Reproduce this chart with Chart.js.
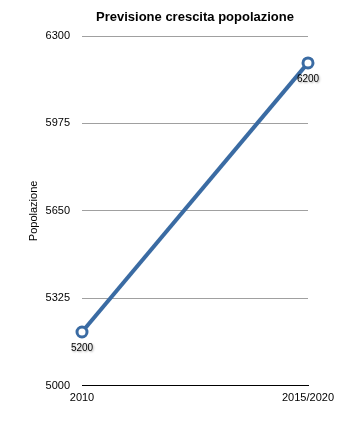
<!DOCTYPE html>
<html>
<head>
<meta charset="utf-8">
<script src="https://cdn.jsdelivr.net/npm/chart.js@4/dist/chart.umd.min.js"></script>
<style>
html,body{margin:0;padding:0;background:#fff;}
#wrap{width:362px;height:427px;}
</style>
</head>
<body>
<div id="wrap"><canvas id="c" width="362" height="427"></canvas></div>
<script>
const categories = ['2010', '2015/2020'];
const popolazione = [5200, 6200];
const yTicks = [5000, 5325, 5650, 5975, 6300];
const chartTitle = 'Previsione crescita popolazione';

const FONT = '"Liberation Sans", Arial, sans-serif';

const labelPlugin = {
  id: 'pointLabels',
  afterDatasetsDraw(chart) {
    const ctx = chart.ctx;
    const meta = chart.getDatasetMeta(0);
    ctx.save();
    ctx.font = '10px ' + FONT;
    ctx.textAlign = 'center';
    ctx.textBaseline = 'middle';
    ctx.shadowColor = 'rgba(0,0,0,0.35)';
    ctx.shadowBlur = 2;
    ctx.shadowOffsetX = 1;
    ctx.shadowOffsetY = 1;
    ctx.fillStyle = '#000';
    meta.data.forEach((pt, i) => {
      ctx.fillText(String(popolazione[i]), pt.x, pt.y + 16);
    });
    ctx.restore();
  },
  afterDraw(chart) {
    const ctx = chart.ctx;
    const a = chart.chartArea;
    ctx.save();
    ctx.font = 'bold 13px ' + FONT;
    ctx.textAlign = 'center';
    ctx.textBaseline = 'middle';
    ctx.fillStyle = '#000';
    ctx.fillText(chartTitle, (a.left + a.right) / 2, 17);
    ctx.restore();
  }
};

new Chart(document.getElementById('c'), {
  type: 'line',
  data: {
    labels: categories,
    datasets: [{
      data: popolazione,
      borderColor: '#3a6ba3',
      borderWidth: 4,
      pointRadius: 5,
      pointBorderWidth: 3,
      pointBackgroundColor: '#ffffff',
      pointBorderColor: '#3a6ba3',
      tension: 0
    }]
  },
  options: {
    responsive: false,
    animation: false,
    layout: { padding: { left: 0, right: 54, top: 36, bottom: 16 } },
    plugins: {
      legend: { display: false },
      tooltip: { enabled: false },
      title: { display: false }
    },
    scales: {
      x: {
        type: 'category',
        offset: false,
        grid: { display: false, drawTicks: false },
        border: { display: true, color: '#000', width: 1 },
        ticks: { color: '#000', padding: 6, maxRotation: 0,
          font: { family: FONT, size: 11 } }
      },
      y: {
        min: 5000, max: 6300,
        afterBuildTicks(axis) { axis.ticks = yTicks.map(v => ({ value: v })); },
        afterFit(axis) { axis.width = 82; },
        grid: { color: '#a0a0a0', drawTicks: false, lineWidth: 1 },
        border: { display: false },
        title: { display: true, text: 'Popolazione', color: '#000', padding: { top: 27, bottom: 0 },
          font: { family: FONT, size: 11 } },
        ticks: { color: '#000', padding: 12,
          callback: (v) => String(v),
          font: { family: FONT, size: 11 } }
      }
    }
  },
  plugins: [labelPlugin]
});
</script>
</body>
</html>
